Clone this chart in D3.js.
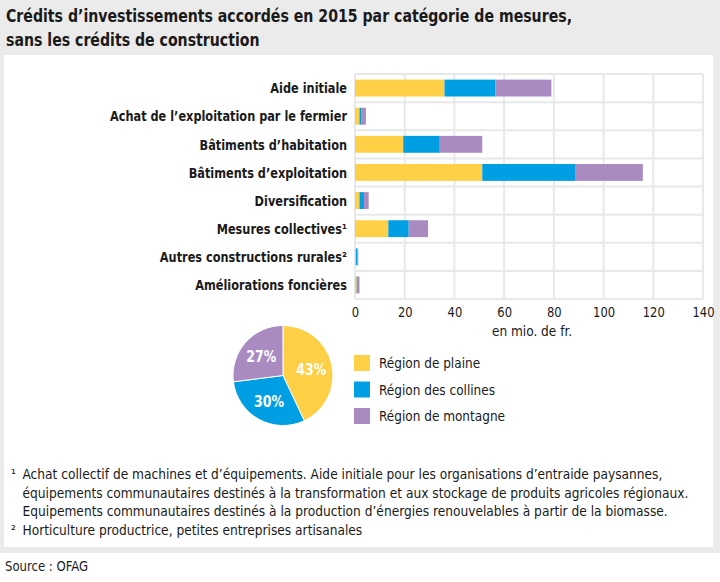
<!DOCTYPE html>
<html>
<head>
<meta charset="utf-8">
<script src="https://cdn.jsdelivr.net/npm/d3@7"></script>
<style>
  html, body { margin: 0; padding: 0; background: #fff; }
  svg { display: block; }
  text { font-family: "Liberation Sans Narrow", "DejaVu Sans Condensed", sans-serif; }
</style>
</head>
<body>
<script>
const categories = [
  "Aide initiale",
  "Achat de l’exploitation par le fermier",
  "Bâtiments d’habitation",
  "Bâtiments d’exploitation",
  "Diversification",
  "Mesures collectives¹",
  "Autres constructions rurales²",
  "Améliorations foncières"
];
const seriesNames = ["Région de plaine", "Région des collines", "Région de montagne"];
const plaine    = [36.0, 1.8, 19.4, 51.2, 1.8, 13.4, 0.4, 0.7];
const collines  = [20.4, 0.9, 14.7, 37.3, 1.8, 8.2, 0.6, 0.1];
const montagne  = [22.6, 1.7, 17.1, 27.3, 1.9, 7.8, 0.3, 1.0];
const xTicks = [0, 20, 40, 60, 80, 100, 120, 140];
const pieShares = [43, 30, 27];
const colors = ["#FFD045", "#009FE3", "#A98BC2"];
const title = ["Crédits d’investissements accordés en 2015 par catégorie de mesures,", "sans les crédits de construction"];
const axisTitle = "en mio. de fr.";
const footnotes = [
  ["¹", "Achat collectif de machines et d’équipements. Aide initiale pour les organisations d’entraide paysannes,"],
  ["", "équipements communautaires destinés à la transformation et aux stockage de produits agricoles régionaux."],
  ["", "Equipements communautaires destinés à la production d’énergies renouvelables à partir de la biomasse."],
  ["²", "Horticulture productrice, petites entreprises artisanales"]
];
const source = "Source : OFAG";

const W = 720, H = 582;
const svg = d3.select("body").append("svg").attr("width", W).attr("height", H);

// compress a group of texts horizontally so that a reference text gets a target width
function fit(sel, refNode, target) {
  const f = target / refNode.getComputedTextLength();
  if (f >= 1) return;
  sel.each(function () {
    const w = this.getComputedTextLength();
    d3.select(this).attr("textLength", w * f).attr("lengthAdjust", "spacingAndGlyphs");
  });
}

// backgrounds
svg.append("rect").attr("x", 0).attr("y", 0).attr("width", W).attr("height", 553).attr("fill", "#EBEBEB");
svg.append("rect").attr("x", 4).attr("y", 55).attr("width", 709).attr("height", 492).attr("fill", "#fff");

// title
const tt = svg.append("g").selectAll("text").data(title).join("text")
  .attr("x", 6).attr("y", (d, i) => 21.5 + i * 24)
  .attr("font-size", 18).attr("font-weight", "bold").attr("fill", "#1a1a1a")
  .text(d => d);
fit(tt, tt.nodes()[0], 566);

// scales
const x = d3.scaleLinear().domain([0, 140]).range([355, 703]);
const y = d3.scaleBand().domain(categories).range([74, 299]).paddingInner(0.4).paddingOuter(0.2);
const step = y.step();

// grid
const grid = svg.append("g").attr("stroke", "#E8E8E8").attr("stroke-width", 2);
grid.selectAll("line.v").data(xTicks).join("line").attr("class", "v")
  .attr("x1", d => x(d)).attr("x2", d => x(d)).attr("y1", 74).attr("y2", 299);
const hLines = categories.map(c => y(c) - step * 0.2).concat([y(categories[categories.length - 1]) + y.bandwidth() + step * 0.2]);
grid.selectAll("line.h").data(hLines).join("line").attr("class", "h")
  .attr("x1", x(0)).attr("x2", x(140)).attr("y1", d => d).attr("y2", d => d);

// stacked bars
const rows = categories.map((c, i) => ({ cat: c, plaine: plaine[i], collines: collines[i], montagne: montagne[i] }));
const stack = d3.stack().keys(["plaine", "collines", "montagne"])(rows);
svg.append("g").selectAll("g").data(stack).join("g")
  .attr("fill", (d, i) => colors[i])
  .selectAll("rect").data(d => d).join("rect")
  .attr("x", d => x(d[0])).attr("width", d => Math.max(0.8, x(d[1]) - x(d[0])))
  .attr("y", d => y(d.data.cat)).attr("height", y.bandwidth());

// category labels
const cl = svg.append("g").selectAll("text").data(categories).join("text")
  .attr("x", 347).attr("y", d => y(d) + y.bandwidth() / 2)
  .attr("dy", "0.36em").attr("text-anchor", "end")
  .attr("font-size", 14.5).attr("font-weight", "bold").attr("fill", "#1a1a1a")
  .text(d => d);
fit(cl, cl.nodes()[1], 237);

// x axis
const xAxis = svg.append("g").attr("transform", "translate(0,299)")
  .call(d3.axisBottom(x).tickValues(xTicks).tickSize(0).tickPadding(8));
xAxis.select(".domain").remove();
const tl = xAxis.selectAll("text").attr("font-size", 14.5).attr("fill", "#1a1a1a")
  .style("font-family", "\"Liberation Sans Narrow\", \"DejaVu Sans Condensed\", sans-serif");
fit(tl, tl.nodes()[tl.size() - 1], 22);
const at = svg.append("text").attr("x", (x(0) + x(140)) / 2 + 3).attr("y", 336)
  .attr("text-anchor", "middle").attr("font-size", 14.5).attr("fill", "#1a1a1a").text(axisTitle);
fit(at, at.node(), 80);

// pie
const cx = 283, cy = 375.5, r = 50;
const pie = d3.pie().sort(null).value(d => d)(pieShares);
const arc = d3.arc().innerRadius(0).outerRadius(r);
const labelArc = d3.arc().innerRadius(29).outerRadius(29);
const pg = svg.append("g").attr("transform", `translate(${cx},${cy})`);
pg.selectAll("path").data(pie).join("path")
  .attr("d", arc).attr("fill", (d, i) => colors[i]).attr("stroke", "#fff").attr("stroke-width", 1);
const pl = pg.selectAll("text").data(pie).join("text")
  .attr("transform", d => `translate(${labelArc.centroid(d)})`)
  .attr("text-anchor", "middle").attr("dy", "0.36em")
  .attr("font-size", 15.5).attr("font-weight", "bold").attr("fill", "#fff")
  .text(d => d.data + "%");
fit(pl, pl.nodes()[0], 30);

// legend
const lg = svg.append("g").selectAll("g").data(seriesNames).join("g")
  .attr("transform", (d, i) => `translate(354,${355 + i * 26.5})`);
lg.append("rect").attr("width", 16).attr("height", 16).attr("fill", (d, i) => colors[i]);
const lt = lg.append("text").attr("x", 25).attr("y", 8).attr("dy", "0.36em")
  .attr("font-size", 14.5).attr("fill", "#1a1a1a").text(d => d);
fit(lt, lt.nodes()[2], 126);

// footnotes
const fg = svg.append("g").selectAll("g").data(footnotes).join("g")
  .attr("transform", (d, i) => `translate(0,${479 + i * 18.6})`);
fg.append("text").attr("x", 11).attr("y", 0).attr("font-size", 13.5).attr("fill", "#1a1a1a").text(d => d[0]);
const ft = fg.append("text").attr("x", 22.5).attr("y", 0).attr("font-size", 13.6).attr("fill", "#1a1a1a").text(d => d[1]);
fit(ft, ft.nodes()[1], 673);

const st = svg.append("text").attr("x", 5).attr("y", 571).attr("font-size", 14.5).attr("fill", "#1a1a1a").text(source);
fit(st, st.node(), 83);
</script>
</body>
</html>
